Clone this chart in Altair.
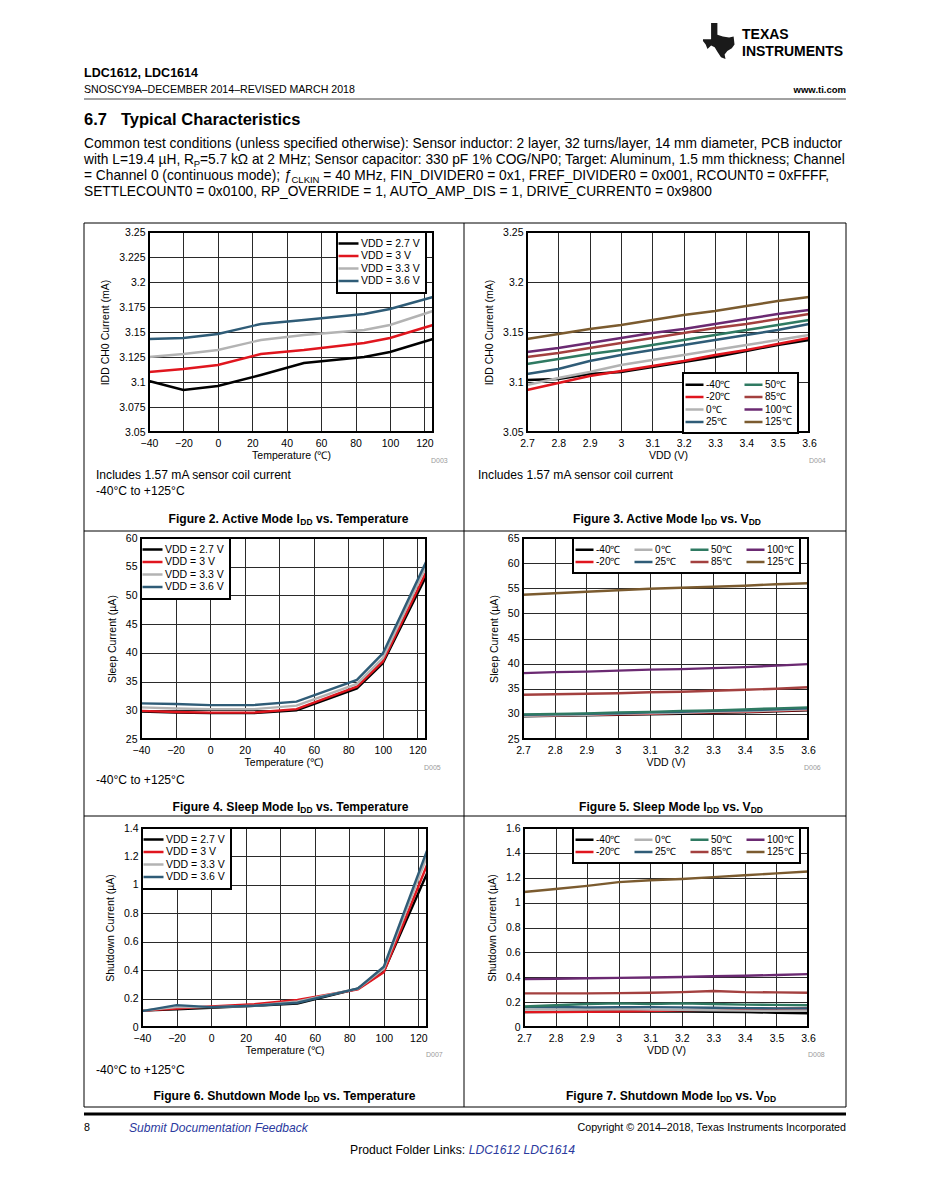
import altair as alt
import pandas as pd

FONT = "Liberation Sans"

# ---------------- data ----------------
TEMP_X = [-40, -20, 0, 25, 50, 85, 100, 125]
VDD_X = [2.7, 2.8, 2.9, 3.0, 3.1, 3.2, 3.3, 3.4, 3.5, 3.6]

VDD_SERIES = ["VDD = 2.7 V", "VDD = 3 V", "VDD = 3.3 V", "VDD = 3.6 V"]
TEMP_SERIES = ["-40℃", "-20℃", "0℃", "25℃", "50℃", "85℃", "100℃", "125℃"]
VDD_COLORS = ["#000000", "#e0161e", "#b3b3b3", "#2f5c77"]
TEMP_COLORS = ["#000000", "#e0161e", "#b3b3b3", "#2f5c77", "#2f7a62", "#a3403f", "#6b2a72", "#7b5b2f"]

TEMP_TICKS = [-40, -20, 0, 20, 40, 60, 80, 100, 120]
VDD_TICKS = [2.7, 2.8, 2.9, 3.0, 3.1, 3.2, 3.3, 3.4, 3.5, 3.6]

# Figure 2: active mode IDD vs temperature (mA)
F2_V27 = [3.101, 3.092, 3.096, 3.107, 3.119, 3.125, 3.130, 3.143]
F2_V30 = [3.110, 3.113, 3.117, 3.128, 3.132, 3.139, 3.144, 3.157]
F2_V33 = [3.125, 3.128, 3.132, 3.142, 3.147, 3.152, 3.157, 3.171]
F2_V36 = [3.143, 3.144, 3.148, 3.158, 3.162, 3.168, 3.173, 3.185]
F2_YTICKS = [3.05, 3.075, 3.1, 3.125, 3.15, 3.175, 3.2, 3.225, 3.25]

# Figure 3: active mode IDD vs VDD (mA)
F3_M40 = [3.102, 3.103, 3.108, 3.110, 3.115, 3.120, 3.125, 3.131, 3.137, 3.142]
F3_M20 = [3.092, 3.099, 3.106, 3.111, 3.116, 3.121, 3.127, 3.132, 3.138, 3.144]
F3_T0 = [3.097, 3.104, 3.110, 3.117, 3.122, 3.127, 3.132, 3.137, 3.142, 3.147]
F3_T25 = [3.108, 3.113, 3.121, 3.127, 3.132, 3.137, 3.142, 3.147, 3.152, 3.158]
F3_T50 = [3.118, 3.123, 3.128, 3.132, 3.137, 3.142, 3.147, 3.152, 3.157, 3.162]
F3_T85 = [3.125, 3.129, 3.134, 3.139, 3.144, 3.149, 3.154, 3.158, 3.163, 3.168]
F3_T100 = [3.130, 3.134, 3.139, 3.144, 3.149, 3.153, 3.158, 3.163, 3.168, 3.172]
F3_T125 = [3.143, 3.148, 3.153, 3.157, 3.162, 3.167, 3.171, 3.176, 3.181, 3.185]
F3_YTICKS = [3.05, 3.1, 3.15, 3.2, 3.25]

# Figure 4: sleep current vs temperature (uA)
F4_V27 = [29.8, 29.6, 29.5, 29.5, 30.0, 33.8, 38.2, 53.3]
F4_V30 = [29.9, 29.7, 29.6, 29.6, 30.2, 34.1, 38.5, 54.0]
F4_V33 = [30.5, 30.3, 30.2, 30.2, 30.8, 34.6, 39.1, 55.0]
F4_V36 = [31.2, 31.1, 30.9, 30.9, 31.5, 35.3, 39.9, 55.8]
F4_YTICKS = [25, 30, 35, 40, 45, 50, 55, 60]

# Figure 5: sleep current vs VDD (uA)
F5_M40 = [29.5, 29.6, 29.7, 29.8, 29.9, 30.0, 30.2, 30.3, 30.5, 30.7]
F5_M20 = [29.6, 29.7, 29.8, 29.9, 30.0, 30.2, 30.3, 30.4, 30.6, 30.8]
F5_T0 = [29.6, 29.7, 29.8, 30.0, 30.1, 30.2, 30.4, 30.5, 30.7, 30.9]
F5_T25 = [29.8, 29.9, 30.0, 30.1, 30.3, 30.4, 30.6, 30.7, 30.9, 31.1]
F5_T50 = [29.9, 30.0, 30.1, 30.3, 30.4, 30.6, 30.7, 30.9, 31.1, 31.3]
F5_T85 = [33.8, 33.9, 34.0, 34.1, 34.3, 34.4, 34.6, 34.8, 35.0, 35.3]
F5_T100 = [38.1, 38.3, 38.4, 38.6, 38.8, 38.9, 39.1, 39.3, 39.6, 39.9]
F5_T125 = [53.7, 54.0, 54.3, 54.6, 54.9, 55.1, 55.3, 55.5, 55.8, 56.0]
F5_YTICKS = [25, 30, 35, 40, 45, 50, 55, 60, 65]

# Figure 6: shutdown current vs temperature (uA)
F6_V27 = [0.115, 0.125, 0.135, 0.150, 0.165, 0.270, 0.390, 1.080]
F6_V30 = [0.115, 0.130, 0.145, 0.160, 0.190, 0.265, 0.385, 1.140]
F6_V33 = [0.115, 0.140, 0.140, 0.150, 0.180, 0.270, 0.410, 1.200]
F6_V36 = [0.112, 0.154, 0.140, 0.150, 0.171, 0.272, 0.424, 1.241]
F6_YTICKS = [0, 0.2, 0.4, 0.6, 0.8, 1, 1.2, 1.4]

# Figure 7: shutdown current vs VDD (uA)
F7_M40 = [0.120, 0.122, 0.124, 0.125, 0.125, 0.125, 0.123, 0.120, 0.115, 0.110]
F7_M20 = [0.120, 0.120, 0.122, 0.125, 0.128, 0.135, 0.140, 0.145, 0.148, 0.150]
F7_T0 = [0.140, 0.142, 0.143, 0.145, 0.140, 0.138, 0.135, 0.132, 0.130, 0.130]
F7_T25 = [0.160, 0.162, 0.158, 0.160, 0.160, 0.158, 0.155, 0.152, 0.150, 0.150]
F7_T50 = [0.165, 0.175, 0.185, 0.190, 0.185, 0.190, 0.185, 0.180, 0.178, 0.175]
F7_T85 = [0.270, 0.270, 0.270, 0.272, 0.275, 0.280, 0.290, 0.280, 0.278, 0.275]
F7_T100 = [0.385, 0.388, 0.392, 0.395, 0.398, 0.402, 0.408, 0.412, 0.418, 0.425]
F7_T125 = [1.085, 1.110, 1.135, 1.165, 1.180, 1.190, 1.205, 1.220, 1.235, 1.250]
F7_YTICKS = [0, 0.2, 0.4, 0.6, 0.8, 1, 1.2, 1.4, 1.6]

# ---------------- helpers ----------------
ONE = pd.DataFrame({"k": [0]})
OX, OY = 8, 8  # page margin: page coords -> chart coords

REG = {' ': 278, '(': 333, ')': 333, ',': 278, '.': 278, '/': 278, ':': 278, ';': 278, '=': 584,
       'µ': 556, 'Ω': 768, 'ƒ': 556,
       'A': 667, 'C': 722, 'D': 722, 'F': 611, 'H': 722, 'I': 278, 'K': 667, 'L': 556, 'M': 833,
       'N': 722, 'P': 667, 'R': 722, 'a': 556, 'c': 500, 'd': 556, 'e': 556, 'h': 556, 'i': 222,
       'k': 500, 'l': 222, 'm': 833, 'n': 556, 'o': 556, 'r': 333, 's': 500, 't': 278, 'u': 556,
       'w': 722}
BOLD = {' ': 278, '.': 278, 'A': 722, 'D': 722, 'F': 611, 'I': 278, 'M': 833, 'S': 667,
        'T': 611, 'V': 667, 'a': 556, 'c': 556, 'd': 611, 'e': 556, 'g': 611, 'h': 611, 'i': 278,
        'l': 278, 'm': 889, 'n': 611, 'o': 611, 'p': 611, 'r': 389, 's': 556, 't': 333, 'u': 611,
        'v': 556, 'w': 778}


def tw(s, size, bold=False):
    table = BOLD if bold else REG
    return sum(table.get(ch, 556) for ch in s) * size / 1000.0


def txt(s, x, y, size, weight="normal", style="normal", align="left", color="black"):
    return alt.Chart(ONE).mark_text(
        align=align, baseline="middle", fontSize=size, fontWeight=weight,
        fontStyle=style, color=color, font=FONT
    ).encode(x=alt.value(x - OX), y=alt.value(y - OY), text=alt.value(s))


def hline(x1, x2, y, w=1.0, color="black"):
    return alt.Chart(ONE).mark_rule(color=color, strokeWidth=w).encode(
        x=alt.value(x1 - OX), x2=alt.value(x2 - OX), y=alt.value(y - OY))


def vline(x, y1, y2, w=1.0, color="black"):
    return alt.Chart(ONE).mark_rule(color=color, strokeWidth=w).encode(
        x=alt.value(x - OX), y=alt.value(y1 - OY), y2=alt.value(y2 - OY))


def caption(num, mode, tail, center, y):
    size, sub = 12.1, 8.5
    s1 = "Figure %s. %s Mode I" % (num, mode)
    total = tw(s1, size, True) + tw("DD", sub, True) + tw(" ", size, True)
    if tail == "T":
        total += tw("vs. Temperature", size, True)
    else:
        total += tw("vs. V", size, True) + tw("DD", sub, True)
    x = center - total / 2
    parts = [txt(s1, x, y, size, "bold")]
    x += tw(s1, size, True)
    parts.append(txt("DD", x, y + 3, sub, "bold"))
    x += tw("DD", sub, True) + tw(" ", size, True)
    if tail == "T":
        parts.append(txt("vs. Temperature", x, y, size, "bold"))
    else:
        parts.append(txt("vs. V", x, y, size, "bold"))
        x += tw("vs. V", size, True)
        parts.append(txt("DD", x, y + 3, sub, "bold"))
    return parts


def long_frame(xs, names, series):
    rows = []
    for name, vals in zip(names, series):
        for xv, v in zip(xs, vals):
            rows.append({"x": xv, "v": v, "s": name})
    return pd.DataFrame(rows)


def legend(lx, ly, cols, big):
    if big:
        sym, fs, off = "M-2.5,0L2.5,0", 10.5, 7
    else:
        sym, fs, off = "M-2.25,0L2.25,0", 10, 6
    return alt.Legend(title=None, orient="none", legendX=lx, legendY=ly, columns=cols,
                      symbolType=sym, symbolSize=64, symbolStrokeWidth=2.5, labelOffset=off,
                      rowPadding=1.5, columnPadding=8, padding=6, strokeColor="black",
                      fillColor="white", labelFontSize=fs, labelFont=FONT, labelColor="black")


def panel(df, xdom, xticks, xtitle, ydom, yticks, ytitle, dom, rng, leg, lead, w, h):
    # the cell is lead + w wide; the plot area starts lead pixels into the cell
    lines = alt.Chart(df).mark_line(strokeWidth=2.4).encode(
        x=alt.X("x:Q", scale=alt.Scale(domain=xdom, range=[lead, lead + w], nice=False, zero=False),
                axis=alt.Axis(values=xticks, title=xtitle, format=".6~g")),
        y=alt.Y("v:Q", scale=alt.Scale(domain=ydom, nice=False, zero=False),
                axis=alt.Axis(values=yticks, title=ytitle, format=".6~g", offset=-lead)),
        color=alt.Color("s:N", scale=alt.Scale(domain=dom, range=rng), legend=leg),
    )
    frame = alt.Chart(ONE).mark_rect(fillOpacity=0, stroke="black", strokeWidth=2).encode(
        x=alt.value(lead), x2=alt.value(lead + w), y=alt.value(0), y2=alt.value(h))
    return alt.layer(lines, frame).properties(width=lead + w, height=h)


def sp(w, h):
    return alt.Chart(ONE).mark_point(opacity=0, size=1).encode(
        x=alt.value(2), y=alt.value(2)).properties(width=w, height=h)


TEMP_TITLE = "Temperature (℃)"

p2 = panel(long_frame(TEMP_X, VDD_SERIES, [F2_V27, F2_V30, F2_V33, F2_V36]),
           [-40, 125], TEMP_TICKS, TEMP_TITLE, [3.05, 3.25], F2_YTICKS, "IDD CH0 Current (mA)",
           VDD_SERIES, VDD_COLORS, legend(196, 0, 1, True), 8, 284, 200)
p3 = panel(long_frame(VDD_X, TEMP_SERIES, [F3_M40, F3_M20, F3_T0, F3_T25, F3_T50, F3_T85, F3_T100, F3_T125]),
           [2.7, 3.6], VDD_TICKS, "VDD (V)", [3.05, 3.25], F3_YTICKS, "IDD CH0 Current (mA)",
           TEMP_SERIES, TEMP_COLORS, legend(160, 141, 2, False), 4, 282, 200)
p4 = panel(long_frame(TEMP_X, VDD_SERIES, [F4_V27, F4_V30, F4_V33, F4_V36]),
           [-40, 125], TEMP_TICKS, TEMP_TITLE, [25, 60], F4_YTICKS, "Sleep Current (µA)",
           VDD_SERIES, VDD_COLORS, legend(0, 0, 1, True), 0, 285, 201)
p5 = panel(long_frame(VDD_X, TEMP_SERIES, [F5_M40, F5_M20, F5_T0, F5_T25, F5_T50, F5_T85, F5_T100, F5_T125]),
           [2.7, 3.6], VDD_TICKS, "VDD (V)", [25, 65], F5_YTICKS, "Sleep Current (µA)",
           TEMP_SERIES, TEMP_COLORS, legend(50, 0, 4, False), 0, 285, 201)
p6 = panel(long_frame(TEMP_X, VDD_SERIES, [F6_V27, F6_V30, F6_V33, F6_V36]),
           [-40, 125], TEMP_TICKS, TEMP_TITLE, [0, 1.4], F6_YTICKS, "Shutdown Current (µA)",
           VDD_SERIES, VDD_COLORS, legend(1, 0, 1, True), 1, 285, 199)
p7 = panel(long_frame(VDD_X, TEMP_SERIES, [F7_M40, F7_M20, F7_T0, F7_T25, F7_T50, F7_T85, F7_T100, F7_T125]),
           [2.7, 3.6], VDD_TICKS, "VDD (V)", [0, 1.6], F7_YTICKS, "Shutdown Current (µA)",
           TEMP_SERIES, TEMP_COLORS, legend(50, 0, 4, False), 1, 284, 199)

# ---------------- page text and rules ----------------
BODY = 13.75
NOTE = 12.1
page = []
TEXAS = ("M-0.55,-1L-0.2,-1L-0.2,-0.35L0.1,-0.25L0.45,-0.2L0.7,-0.25L0.75,0.2L0.6,0.4L0.35,0.55"
         "L0.2,0.75L0.25,1L0,0.9L-0.2,0.6L-0.35,0.35L-0.55,0.25L-0.75,0.45L-0.85,0.2L-1,0L-1,-0.1L-0.55,-0.1Z")
page.append(alt.Chart(ONE).mark_point(shape=TEXAS, filled=True, color="#1a1a1a", size=1300, opacity=1)
            .encode(x=alt.value(720 - OX), y=alt.value(40 - OY)))
page.append(txt("TEXAS", 741, 34, 14, "bold"))
page.append(txt("INSTRUMENTS", 741, 51, 14, "bold"))
page.append(txt("LDC1612, LDC1614", 83, 72, 12.5, "bold"))
page.append(txt("SNOSCY9A–DECEMBER 2014–REVISED MARCH 2018", 83, 89, 10.6))
page.append(txt("www.ti.com", 845, 89, 9.5, "bold", align="right"))
page.append(hline(83, 845, 98, 1.0, "#444444"))
page.append(txt("6.7", 83, 119, 16.5, "bold"))
page.append(txt("Typical Characteristics", 120, 119, 16.5, "bold"))

page.append(txt("Common test conditions (unless specified otherwise): Sensor inductor: 2 layer, 32 turns/layer, "
                "14 mm diameter, PCB inductor", 83, 143, BODY))
s = "with L=19.4 µH, R"
x = 83 + tw(s, BODY)
page.append(txt(s, 83, 159, BODY))
page.append(txt("P", x, 162.5, 9.5))
page.append(txt("=5.7 kΩ at 2 MHz; Sensor capacitor: 330 pF 1% COG/NP0; Target: Aluminum, 1.5 mm thickness; "
                "Channel", x + tw("P", 9.5), 159, BODY))
s = "= Channel 0 (continuous mode); "
x = 83 + tw(s, BODY)
page.append(txt(s.strip(), 83, 175, BODY))
page.append(txt("ƒ", x, 175, BODY, style="italic"))
x += tw("ƒ", BODY)
page.append(txt("CLKIN", x, 178.5, 9.5))
x += tw("CLKIN", 9.5) + tw(" ", BODY)
page.append(txt("= 40 MHz, FIN_DIVIDER0 = 0x1, FREF_DIVIDER0 = 0x001, RCOUNT0 = 0xFFFF,", x, 175, BODY))
page.append(txt("SETTLECOUNT0 = 0x0100, RP_OVERRIDE = 1, AUTO_AMP_DIS = 1, DRIVE_CURRENT0 = 0x9800",
                83, 191, BODY))

# figure table
page += [hline(83, 845, 222), hline(83, 845, 530), hline(83, 845, 815), hline(83, 845, 1106),
         vline(83, 222, 1106), vline(845, 222, 1106), vline(463, 222, 1106)]

# notes, figure ids and captions
page.append(txt("Includes 1.57 mA sensor coil current", 95, 474, NOTE))
page.append(txt("-40°C to +125°C", 95, 490, NOTE))
page.append(txt("Includes 1.57 mA sensor coil current", 477, 474, NOTE))
page.append(txt("-40°C to +125°C", 95, 779, NOTE))
page.append(txt("-40°C to +125°C", 95, 1069, NOTE))
for lab, lx, ly in [("D003", 430, 460), ("D004", 808, 460), ("D005", 423, 767),
                    ("D006", 803, 767), ("D007", 425, 1054), ("D008", 807, 1054)]:
    page.append(txt(lab, lx, ly, 7, color="#9a9a9a"))
page += caption("2", "Active", "T", 288, 518)
page += caption("3", "Active", "V", 666, 518)
page += caption("4", "Sleep", "T", 290, 806)
page += caption("5", "Sleep", "V", 670, 806)
page += caption("6", "Shutdown", "T", 284, 1095)
page += caption("7", "Shutdown", "V", 670, 1095)

# footer
BLUE = "#2b3a9e"
page.append(hline(83, 845, 1113, 3.0))
page.append(txt("8", 83, 1127, 10.7))
page.append(txt("Submit Documentation Feedback", 128, 1127, NOTE, style="italic", color=BLUE))
page.append(txt("Copyright © 2014–2018, Texas Instruments Incorporated", 845, 1127, 10.7, align="right"))
s = "Product Folder Links: "
page.append(txt(s.strip(), 349, 1149, 12.2))
page.append(txt("LDC1612  LDC1614", 349 + tw(s, 12.2), 1149, 12.2, style="italic", color=BLUE))

page_layer = alt.layer(*page).properties(width=1, height=223)

# grid of cells: columns are aligned, every row has equal cell heights
cells = [
    page_layer, sp(1, 223), sp(1, 223), sp(1, 223),
    sp(132, 200), p2, sp(90, 200), p3,
    sp(1, 106), sp(1, 106), sp(1, 106), sp(1, 106),
    sp(132, 201), p4, sp(90, 201), p5,
    sp(1, 89), sp(1, 89), sp(1, 89), sp(1, 89),
    sp(132, 199), p6, sp(90, 199), p7,
]

chart = alt.concat(*cells, columns=4, spacing=0, bounds="flush").resolve_scale(
    color="independent").resolve_legend(color="independent").properties(padding=0).configure(
    font=FONT).configure_view(stroke="transparent").configure_axis(
    labelFont=FONT, labelFontSize=10.5, labelColor="black", titleFont=FONT, titleFontSize=10.5,
    titleFontWeight="normal", titleColor="black", ticks=False, domain=False, grid=True,
    gridColor="#2a2a2a", gridWidth=1, labelFlush=False, labelOverlap=False).configure_axisX(
    labelPadding=6, titlePadding=2).configure_axisY(labelPadding=4, titlePadding=8).configure_legend(
    strokeWidth=2)

chart.save("out.html", embed_options={"renderer": "svg", "actions": False})
